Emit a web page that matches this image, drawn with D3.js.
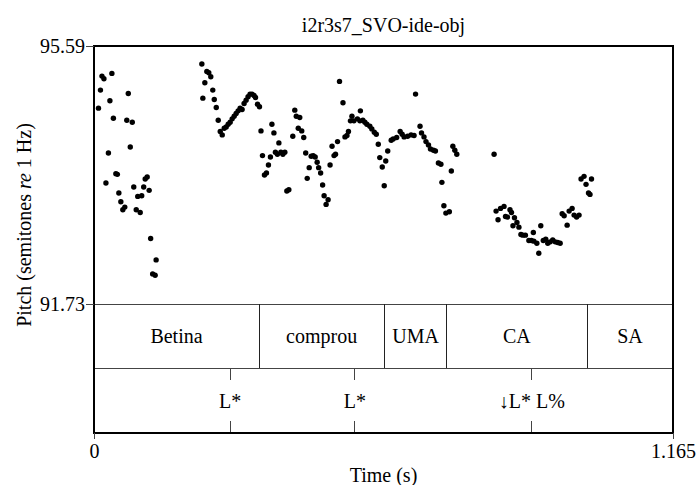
<!DOCTYPE html>
<html>
<head>
<meta charset="utf-8">
<script src="https://cdn.jsdelivr.net/npm/d3@7"></script>
<style>
  body { margin: 0; background: #fff; }
</style>
</head>
<body>
<div id="chart"></div>
<script>
const title = "i2r3s7_SVO-ide-obj";
const timeRange = [0, 1.165];
const pitchRange = [91.73, 95.59];

// pitch points (s, semitones re 1 Hz)
const pitchTimes = [
  0.009, 0.013, 0.016, 0.020, 0.024, 0.029, 0.032, 0.036, 0.039, 0.044,
  0.047, 0.050, 0.054, 0.058, 0.062, 0.066, 0.069, 0.073, 0.077, 0.080,
  0.085, 0.088, 0.093, 0.096, 0.100, 0.103, 0.107, 0.111, 0.114, 0.118,
  0.123, 0.125,
  0.217, 0.219, 0.223, 0.227, 0.231, 0.235, 0.239, 0.242, 0.246, 0.250,
  0.254, 0.258, 0.262, 0.266, 0.270, 0.274, 0.278, 0.282, 0.286, 0.290,
  0.294, 0.298, 0.302, 0.306, 0.310, 0.314, 0.318, 0.322, 0.325, 0.329,
  0.333, 0.336, 0.339, 0.343, 0.347, 0.351, 0.355, 0.358, 0.362, 0.365,
  0.369, 0.372, 0.376, 0.380, 0.384, 0.388, 0.392, 0.400, 0.404, 0.407,
  0.411, 0.414, 0.418, 0.422, 0.426, 0.429, 0.433, 0.437, 0.441, 0.445,
  0.449, 0.452, 0.456, 0.460, 0.463, 0.467, 0.471, 0.475, 0.479, 0.483,
  0.486, 0.490, 0.494, 0.501, 0.505, 0.509, 0.512, 0.516, 0.519, 0.523,
  0.530, 0.535, 0.536, 0.541, 0.545, 0.549, 0.555, 0.559, 0.564, 0.568,
  0.572, 0.575, 0.580, 0.584, 0.587, 0.591, 0.598, 0.602, 0.609, 0.616,
  0.620, 0.624, 0.631, 0.638, 0.644, 0.647, 0.656, 0.659, 0.664, 0.668,
  0.673, 0.677, 0.683, 0.687, 0.693, 0.698, 0.700, 0.704, 0.708, 0.715,
  0.719, 0.722, 0.726, 0.730, 0.805,
  0.809, 0.813, 0.818, 0.825, 0.828, 0.832, 0.837, 0.840, 0.843, 0.846,
  0.851, 0.855, 0.859, 0.863, 0.868, 0.875, 0.880, 0.884, 0.885, 0.891,
  0.895, 0.899, 0.904, 0.909, 0.913, 0.918, 0.923, 0.928, 0.933, 0.938,
  0.942, 0.946, 0.952, 0.956, 0.962, 0.966, 0.971, 0.976, 0.980, 0.986,
  0.990, 0.995, 0.998, 1.001
];
const pitchValues = [
  94.66, 94.93, 95.14, 95.10, 93.54, 93.99, 94.77, 95.18, 94.51, 93.68,
  93.67, 93.39, 93.26, 93.14, 93.18, 94.48, 94.88, 94.08, 94.45, 93.48,
  93.14, 93.34, 93.10, 93.35, 93.48, 93.60, 93.63, 93.43, 92.71, 92.18,
  92.16, 92.39,
  95.32, 94.81, 95.04, 95.21, 95.19, 95.13, 94.93, 94.79, 94.67, 94.48,
  94.31, 94.26, 94.36, 94.38, 94.42, 94.45, 94.50, 94.54, 94.58, 94.62,
  94.66, 94.64, 94.73, 94.78, 94.83, 94.87, 94.87, 94.85, 94.82, 94.72,
  94.68, 94.32, 93.95, 93.66, 93.69, 93.81, 93.93, 94.42, 94.29, 94.00,
  93.97, 94.14, 94.00, 93.97, 94.00, 93.42, 93.44, 94.24, 94.63, 94.54,
  94.36, 94.52, 94.32, 94.22, 93.99, 93.61, 93.77, 93.94, 93.95, 93.93,
  93.85, 93.77, 93.69, 93.51, 93.35, 93.22, 93.29, 93.81, 94.09, 93.95,
  93.97, 94.16, 95.06, 94.74, 94.23, 94.25, 94.31, 94.47, 94.54, 94.47,
  94.50, 94.47, 94.62, 94.48, 94.45, 94.42, 94.39, 94.35, 94.30, 94.27,
  94.12, 93.92, 93.78, 93.50, 93.87, 94.02, 94.18, 94.20, 94.22, 94.31,
  94.27, 94.23, 94.24, 94.26, 94.25, 94.87, 94.39, 94.29, 94.23, 94.16,
  94.11, 94.05, 94.03, 94.02, 93.84, 93.82, 93.55, 93.20, 93.09, 93.11,
  93.72, 94.09, 94.03, 93.97, 93.97,
  93.12, 92.99, 93.16, 93.19, 93.04, 93.03, 93.14, 93.10, 92.90, 93.02,
  92.95, 92.88, 92.77, 92.76, 92.76, 92.68, 92.68, 92.80, 92.67, 92.64,
  92.49, 92.90, 92.68, 92.70, 92.64, 92.66, 92.69, 92.66, 92.65, 92.64,
  93.08, 93.05, 92.91, 93.12, 93.16, 93.06, 93.03, 93.06, 93.60, 93.64,
  93.52, 93.39, 93.37, 93.60
];

// tier 1: words (interval tier)
const words = ["Betina", "comprou", "UMA", "CA", "SA"];
const wordBounds = [0, 0.332, 0.584, 0.710, 0.992, 1.165];

// tier 2: tones (point tier)
const tones = ["L*", "L*", "\u2193L* L%"];
const toneTimes = [0.274, 0.525, 0.881];

const config = {
    width: 697,
    height: 485,
    left: 94,
    right: 673,
    top: 46,
    pitchBottom: 304,
    tierBottoms: [368, 433],
    fontSize: 20,
    fontFamily: "'Liberation Serif', 'Times New Roman', Times, 'DejaVu Serif', serif",
    dotRadius: 2.7,
    pointTick: 12,
};

const svg = d3.select("#chart")
    .append("svg")
    .attr("width", config.width)
    .attr("height", config.height)
    .attr("font-family", config.fontFamily)
    .attr("font-size", config.fontSize);

const scale_x = d3.scaleLinear()
    .domain(timeRange)
    .range([config.left, config.right]);
const scale_y = d3.scaleLinear()
    .domain(pitchRange)
    .range([config.pitchBottom, config.top]);

const bottom = config.tierBottoms[1];
const tier2Top = config.tierBottoms[0];

// pitch dots
svg.append("g")
    .selectAll("circle")
    .data(pitchTimes.map((t, i) => [t, pitchValues[i]]))
    .join("circle")
    .attr("cx", d => scale_x(d[0]))
    .attr("cy", d => scale_y(d[1]))
    .attr("r", config.dotRadius)
    .attr("fill", "#000");

// tiers
const g_tiers = svg.append("g")
    .attr("stroke-width", 1)
    .attr("shape-rendering", "crispEdges");

[config.pitchBottom, tier2Top].forEach(y => {
    g_tiers.append("line")
        .attr("x1", config.left).attr("x2", config.right)
        .attr("y1", y).attr("y2", y)
        .attr("stroke", "#444");
});

g_tiers.selectAll("line.bound")
    .data(wordBounds.slice(1, -1))
    .join("line")
    .attr("class", "bound")
    .attr("x1", d => scale_x(d)).attr("x2", d => scale_x(d))
    .attr("y1", config.pitchBottom).attr("y2", tier2Top)
    .attr("stroke", "#222");

toneTimes.forEach(t => {
    const x = scale_x(t);
    g_tiers.append("line")
        .attr("x1", x).attr("x2", x)
        .attr("y1", tier2Top).attr("y2", tier2Top + config.pointTick)
        .attr("stroke", "#444");
    g_tiers.append("line")
        .attr("x1", x).attr("x2", x)
        .attr("y1", bottom - config.pointTick).attr("y2", bottom)
        .attr("stroke", "#444");
});

svg.append("g")
    .selectAll("text")
    .data(words)
    .join("text")
    .attr("x", (d, i) => scale_x((wordBounds[i] + wordBounds[i + 1]) / 2))
    .attr("y", (config.pitchBottom + tier2Top) / 2 + 7)
    .attr("text-anchor", "middle")
    .text(d => d);

svg.append("g")
    .selectAll("text")
    .data(tones)
    .join("text")
    .attr("x", (d, i) => scale_x(toneTimes[i]))
    .attr("y", (tier2Top + bottom) / 2 + 7)
    .attr("text-anchor", "middle")
    .text(d => d);

// outer box
svg.append("rect")
    .attr("x", config.left)
    .attr("y", config.top)
    .attr("width", config.right - config.left)
    .attr("height", bottom - config.top)
    .attr("fill", "none")
    .attr("stroke", "#000")
    .attr("stroke-width", 1.5)
    .attr("shape-rendering", "crispEdges");

// axes
const axis_left = d3.axisLeft(scale_y)
    .tickValues(pitchRange)
    .tickSize(8)
    .tickPadding(1)
    .tickFormat(d3.format(".2f"));
const g_axisY = svg.append("g")
    .attr("transform", `translate(${config.left}, 0)`)
    .call(axis_left);

const axis_bottom = d3.axisBottom(scale_x)
    .tickValues(timeRange)
    .tickSize(6)
    .tickPadding(5)
    .tickFormat(d => d === 0 ? "0" : d3.format(".3f")(d));
const g_axisX = svg.append("g")
    .attr("transform", `translate(0, ${bottom})`)
    .call(axis_bottom);

[g_axisY, g_axisX].forEach(g => {
    g.select(".domain").remove();
    g.attr("font-family", config.fontFamily).attr("font-size", config.fontSize);
    g.selectAll(".tick line").attr("stroke", "#444");
    g.selectAll(".tick text").attr("fill", "#000");
});

// labels
svg.append("text")
    .attr("x", (config.left + config.right) / 2)
    .attr("y", 32)
    .attr("text-anchor", "middle")
    .text(title);

svg.append("text")
    .attr("x", (config.left + config.right) / 2)
    .attr("y", 482)
    .attr("text-anchor", "middle")
    .text("Time (s)");

const yLabel = svg.append("text")
    .attr("transform", "translate(31, 225) rotate(-90)")
    .attr("text-anchor", "middle");
yLabel.append("tspan").text("Pitch (semitones ");
yLabel.append("tspan").attr("font-style", "italic").text("re");
yLabel.append("tspan").text(" 1 Hz)");
</script>
</body>
</html>
